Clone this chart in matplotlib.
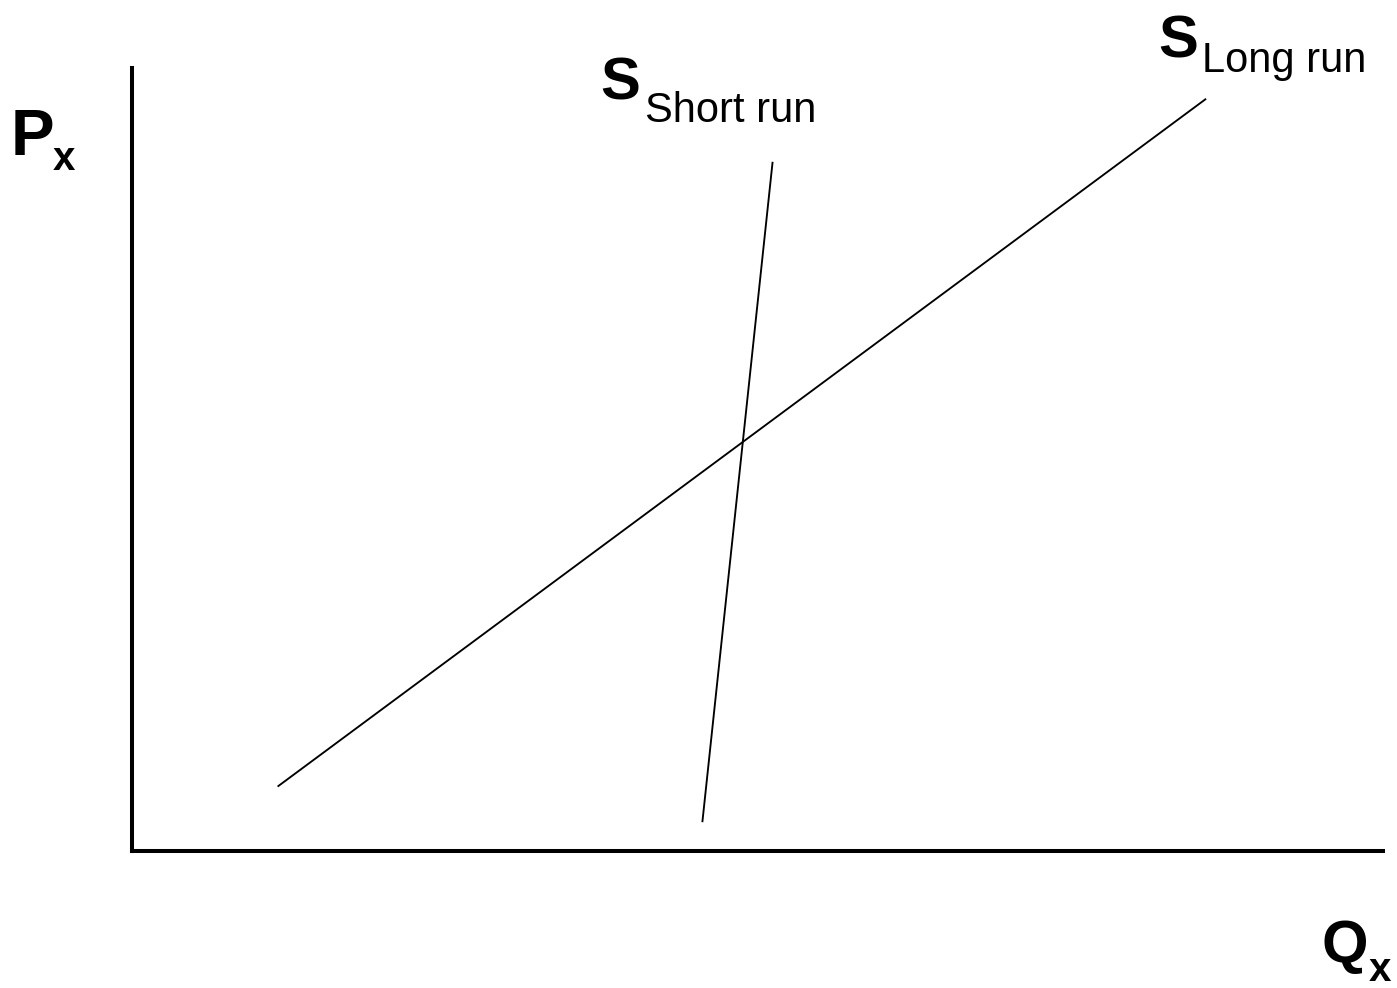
import matplotlib
matplotlib.use("Agg")
import matplotlib.pyplot as plt

W, H = 1397, 988
plt.rcParams['font.family'] = ['Liberation Sans', 'DejaVu Sans']

# Data (arbitrary units, Q and P from 0 to 100)
long_run_q = [11.7, 85.8]
long_run_p = [8.3, 96.0]
short_run_q = [45.6, 51.2]
short_run_p = [3.8, 87.9]

fig = plt.figure(figsize=(W / 100, H / 100), dpi=100)
ax = fig.add_axes([132 / W, (H - 851) / H, 1251 / W, 783 / H])
ax.set_xlim(0, 100)
ax.set_ylim(0, 100)
for s in ['top', 'right']:
    ax.spines[s].set_visible(False)
for s in ['left', 'bottom']:
    ax.spines[s].set_linewidth(2.9)
    ax.spines[s].set_capstyle('projecting')
ax.set_xticks([])
ax.set_yticks([])

ax.plot(long_run_q, long_run_p, color='black', lw=1.35, clip_on=False)
ax.plot(short_run_q, short_run_p, color='black', lw=1.35, clip_on=False)

def t(x, y, s, size, bold=False):
    fig.text(x / W, 1 - y / H, s, fontsize=size, fontweight='bold' if bold else 'normal',
             va='baseline', ha='left')

t(11, 155, 'P', 47, True)
t(53, 170, 'x', 29, True)
t(1322, 962, 'Q', 43, True)
t(1369, 981, 'x', 29, True)
t(600, 99, 'S', 43, True)
t(645, 122, 'Short run', 30)
t(1158, 58, 'S', 43, True)
t(1202, 72, 'Long run', 30)

fig.savefig('out.png', dpi=100)
